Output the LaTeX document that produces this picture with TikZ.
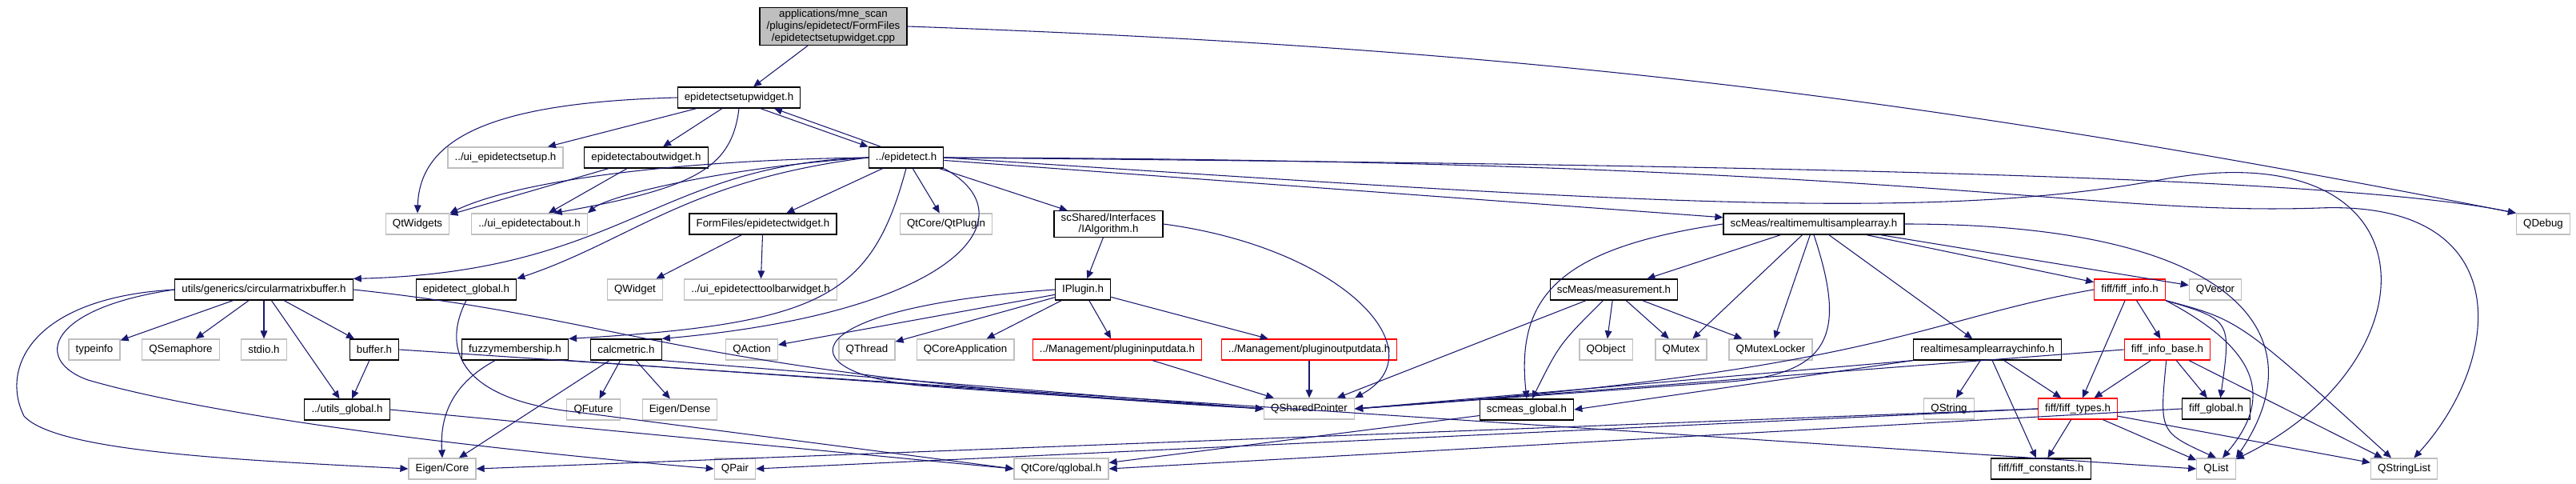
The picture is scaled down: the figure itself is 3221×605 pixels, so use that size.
\documentclass[tikz,border=0pt]{standalone}
\usepackage{fontspec}
\setmainfont{Liberation Sans}
\usetikzlibrary{arrows.meta}
\definecolor{IncEdge}{HTML}{191970}
\definecolor{IncGray}{HTML}{BFBFBF}
\definecolor{IncRed}{HTML}{FF0000}

\tikzset{
  box/.style={fill=white,line width=0.9pt,inner xsep=6.5pt,inner ysep=2pt,
              minimum height=19.5pt,font=\fontsize{10}{11}\selectfont},
  hdr/.style={box,draw=black},
  sys/.style={box,draw=IncGray},
  cut/.style={box,draw=IncRed},
  cur/.style={box,draw=black,fill=IncGray,align=center},
  inc/.style={draw=IncEdge,line width=0.8pt,-{Triangle[length=7.5pt,width=6.5pt]}}
}

\begin{document}
\begin{tikzpicture}[x=0.75pt,y=-0.75pt]
  \useasboundingbox (0,0) rectangle (3221,605);

  % files
  \node[cur] (root) at (1042,33) {applications/mne\_scan\\/plugins/epidetect/FormFiles\\/epidetectsetupwidget.cpp};
  \node[hdr] (setup) at (924,122) {epidetectsetupwidget.h};
  \node[sys] (uisetup) at (632,197) {../ui\_epidetectsetup.h};
  \node[hdr] (about) at (808,197) {epidetectaboutwidget.h};
  \node[hdr] (epi) at (1133,197) {../epidetect.h};
  \node[sys] (qtwidgets) at (522,280) {QtWidgets};
  \node[sys] (uiabout) at (662,280) {../ui\_epidetectabout.h};
  \node[hdr] (formwidget) at (954,280) {FormFiles/epidetectwidget.h};
  \node[sys] (qtplugin) at (1183,280) {QtCore/QtPlugin};
  \node[hdr,align=center] (ialgo) at (1386,280) {scShared/Interfaces\\/IAlgorithm.h};
  \node[hdr] (rtmsa) at (2268,280) {scMeas/realtimemultisamplearray.h};
  \node[sys] (qdebug) at (3180,280) {QDebug};

  \node[hdr] (cmb) at (330,362) {utils/generics/circularmatrixbuffer.h};
  \node[hdr] (epiglobal) at (583,362) {epidetect\_global.h};
  \node[sys] (qwidget) at (794,362) {QWidget};
  \node[sys] (uitoolbar) at (951,362) {../ui\_epidetecttoolbarwidget.h};
  \node[hdr] (iplugin) at (1354,362) {IPlugin.h};
  \node[hdr] (meas) at (2018,362) {scMeas/measurement.h};
  \node[cut] (fiffinfo) at (2663,362) {fiff/fiff\_info.h};
  \node[sys] (qvector) at (2770,362) {QVector};

  \node[sys] (typeinfo) at (118,437) {typeinfo};
  \node[sys] (qsemaphore) at (226,437) {QSemaphore};
  \node[sys] (stdioh) at (330,437) {stdio.h};
  \node[hdr] (bufferh) at (468,437) {buffer.h};
  \node[hdr] (fuzzy) at (644,437) {fuzzymembership.h};
  \node[hdr] (calcmetric) at (783,437) {calcmetric.h};
  \node[sys] (qaction) at (940,437) {QAction};
  \node[sys] (qthread) at (1084,437) {QThread};
  \node[sys] (qcoreapp) at (1207,437) {QCoreApplication};
  \node[cut] (pinput) at (1397,437) {../Management/plugininputdata.h};
  \node[cut] (poutput) at (1637,437) {../Management/pluginoutputdata.h};
  \node[sys] (qobject) at (2008,437) {QObject};
  \node[sys] (qmutex) at (2102,437) {QMutex};
  \node[sys] (qmutexlocker) at (2214,437) {QMutexLocker};
  \node[hdr] (rtsachinfo) at (2485,437) {realtimesamplearraychinfo.h};
  \node[cut] (fiffinfobase) at (2710,437) {fiff\_info\_base.h};

  \node[hdr] (utilsglobal) at (434,512) {../utils\_global.h};
  \node[sys] (qfuture) at (742,512) {QFuture};
  \node[sys] (eigendense) at (850,512) {Eigen/Dense};
  \node[sys] (qsharedptr) at (1637,511) {QSharedPointer};
  \node[hdr] (scmeasglobal) at (1909,512) {scmeas\_global.h};
  \node[sys] (qstring) at (2437,511) {QString};
  \node[cut] (fifftypes) at (2598,511) {fiff/fiff\_types.h};
  \node[hdr] (fiffglobal) at (2771,511) {fiff\_global.h};

  \node[sys] (eigencore) at (553,586) {Eigen/Core};
  \node[sys] (qpair) at (919,586) {QPair};
  \node[sys] (qglobal) at (1327,586) {QtCore/qglobal.h};
  \node[hdr] (fiffconst) at (2552,586) {fiff/fiff\_constants.h};
  \node[sys] (qlist) at (2771,586) {QList};
  \node[sys] (qstringlist) at (3006,586) {QStringList};

  % includes of the cpp file
  \draw[inc] (root) -- (setup);
  \draw[inc] (root.east) .. controls (1900,60) and (2400,120) .. (qdebug.north west);

  % epidetectsetupwidget.h
  \draw[inc] (setup.west) .. controls (620,128) and (525,170) .. (qtwidgets.north);
  \draw[inc] (setup) -- (uisetup);
  \draw[inc] (setup) -- (about);
  \draw[inc] (setup.south) .. controls (915,210) and (870,235) .. ([xshift=23pt]uiabout.north);
  \draw[inc] ([xshift=20pt]setup.south) -- (epi.north west);
  \draw[inc] ([xshift=12pt]epi.north west) -- ([xshift=33pt]setup.south);

  % epidetectaboutwidget.h
  \draw[inc] (about) -- (qtwidgets);
  \draw[inc] (about) -- (uiabout);

  % ../epidetect.h
  \draw[inc] (epi.west) .. controls (850,200) and (650,225) .. (qtwidgets.north east);
  \draw[inc] (epi.west) .. controls (900,210) and (760,245) .. (uiabout.north east);
  \draw[inc] (epi) -- (formwidget);
  \draw[inc] (epi.west) .. controls (820,205) and (780,340) .. (cmb.north east);
  \draw[inc] (epi.west) .. controls (860,225) and (790,300) .. (epiglobal.north east);
  \draw[inc] (epi) -- (qtplugin);
  \draw[inc] (epi) -- (ialgo);
  \draw[inc] (epi.south) .. controls (1090,370) and (1030,405) .. (fuzzy.north east);
  \draw[inc] (epi.south east) .. controls (1290,270) and (1200,390) .. (calcmetric.north east);
  \draw[inc] (epi) -- (rtmsa);
  \draw[inc] (epi.east) .. controls (2000,205) and (2900,215) .. (qdebug.north west);
  \draw[inc] (epi.east) .. controls (2000,250) and (2400,280) .. (2700,225)
             .. controls (3050,160) and (3050,450) .. (qlist);
  \draw[inc] (epi.east) .. controls (2400,200) and (2600,270) .. (2900,260)
             .. controls (3150,250) and (3130,450) .. (qstringlist);

  % FormFiles/epidetectwidget.h
  \draw[inc] (formwidget) -- (qwidget);
  \draw[inc] (formwidget) -- (uitoolbar);

  % circularmatrixbuffer.h
  \draw[inc] (cmb) -- (typeinfo);
  \draw[inc] (cmb) -- (qsemaphore);
  \draw[inc] (cmb) -- (stdioh);
  \draw[inc] (cmb) -- (bufferh);
  \draw[inc] (cmb) -- (utilsglobal);
  \draw[inc] (cmb.west) .. controls (40,372) and (0,460) .. (30,520)
             .. controls (70,565) and (300,575) .. (eigencore.west);
  \draw[inc] (cmb.west) .. controls (60,385) and (40,450) .. (110,475)
             .. controls (300,530) and (700,570) .. (qpair.west);
  \draw[inc] (cmb.east) .. controls (800,400) and (850,470) .. (qsharedptr.west);

  % buffer.h, globals
  \draw[inc] (bufferh) -- (utilsglobal);
  \draw[inc] (bufferh.east) -- (qlist.west);
  \draw[inc] (utilsglobal.east) -- (qglobal.west);
  \draw[inc] (epiglobal.south) .. controls (550,440) and (580,500) .. (720,515) -- (qglobal.west);

  % fuzzymembership.h, calcmetric.h
  \draw[inc] (fuzzy) .. controls (565,480) and (550,520) .. (eigencore.north);
  \draw[inc] (fuzzy.south east) -- (qsharedptr.west);
  \draw[inc] (calcmetric) -- (qfuture);
  \draw[inc] (calcmetric) -- (eigendense);
  \draw[inc] (calcmetric) -- (eigencore);
  \draw[inc] (calcmetric.south east) -- (qsharedptr.west);

  % IAlgorithm.h, IPlugin.h
  \draw[inc] (ialgo) -- (iplugin);
  \draw[inc] (ialgo.east) .. controls (1680,310) and (1800,440) .. (qsharedptr.north east);
  \draw[inc] (iplugin) -- (qaction);
  \draw[inc] (iplugin) -- (qthread);
  \draw[inc] (iplugin) -- (qcoreapp);
  \draw[inc] (iplugin) -- (pinput);
  \draw[inc] (iplugin) -- (poutput);
  \draw[inc] (iplugin.west) .. controls (990,385) and (980,465) .. (1150,482)
             .. controls (1350,497) and (1500,505) .. (qsharedptr.west);
  \draw[inc] (pinput) -- (qsharedptr);
  \draw[inc] (poutput) -- (qsharedptr);

  % scMeas
  \draw[inc] (meas) -- (qsharedptr);
  \draw[inc] (meas) .. controls (1950,430) .. (scmeasglobal);
  \draw[inc] (meas) -- (qobject);
  \draw[inc] (meas) -- (qmutex);
  \draw[inc] (meas) -- (qmutexlocker);
  \draw[inc] (rtmsa) -- (meas);
  \draw[inc] (rtmsa) -- (qmutex);
  \draw[inc] (rtmsa) -- (qmutexlocker);
  \draw[inc] (rtmsa) -- (rtsachinfo);
  \draw[inc] (rtmsa) -- (fiffinfo);
  \draw[inc] (rtmsa) -- (qvector);
  \draw[inc] (rtmsa.west) .. controls (1950,310) and (1895,370) .. (scmeasglobal.north);
  \draw[inc] (rtmsa.south) .. controls (2310,420) and (2290,470) .. (2150,478) -- (qsharedptr.east);
  \draw[inc] (rtmsa.east) .. controls (2800,280) and (2900,420) .. (qlist.north east);
  \draw[inc] (rtsachinfo) -- (qstring);
  \draw[inc] (rtsachinfo) -- (fifftypes);
  \draw[inc] (rtsachinfo) -- (fiffconst);
  \draw[inc] (rtsachinfo.south west) -- (qsharedptr.east);
  \draw[inc] (rtsachinfo.south west) -- (scmeasglobal.east);
  \draw[inc] (scmeasglobal) -- (qglobal);

  % fiff
  \draw[inc] (fiffinfo) -- (fiffinfobase);
  \draw[inc] (fiffinfo) -- (fifftypes);
  \draw[inc] (fiffinfo.south east) .. controls (2790,400) .. ([xshift=4pt]fiffglobal.north);
  \draw[inc] (fiffinfo.south east) .. controls (2830,440) and (2840,500) .. ([xshift=6pt]qlist.north);
  \draw[inc] (fiffinfo.south east) .. controls (2800,400) .. ([xshift=-12pt]qstringlist.north);
  \draw[inc] (fiffinfo.west) .. controls (2400,400) and (2350,465) .. (qsharedptr.east);
  \draw[inc] (fiffinfobase) -- (fifftypes);
  \draw[inc] (fiffinfobase) -- (fiffglobal);
  \draw[inc] (fiffinfobase) .. controls (2700,540) .. (qlist.north);
  \draw[inc] (fiffinfobase) -- (qstringlist);
  \draw[inc] (fiffinfobase.west) -- (qsharedptr.east);
  \draw[inc] (fifftypes) -- (fiffconst);
  \draw[inc] (fifftypes) -- (qlist);
  \draw[inc] (fifftypes) -- (qstringlist);
  \draw[inc] (fifftypes.west) -- (eigencore.east);
  \draw[inc] (fifftypes.west) -- (qpair.east);
  \draw[inc] (fiffglobal.west) -- (qglobal.east);
\end{tikzpicture}
\end{document}
